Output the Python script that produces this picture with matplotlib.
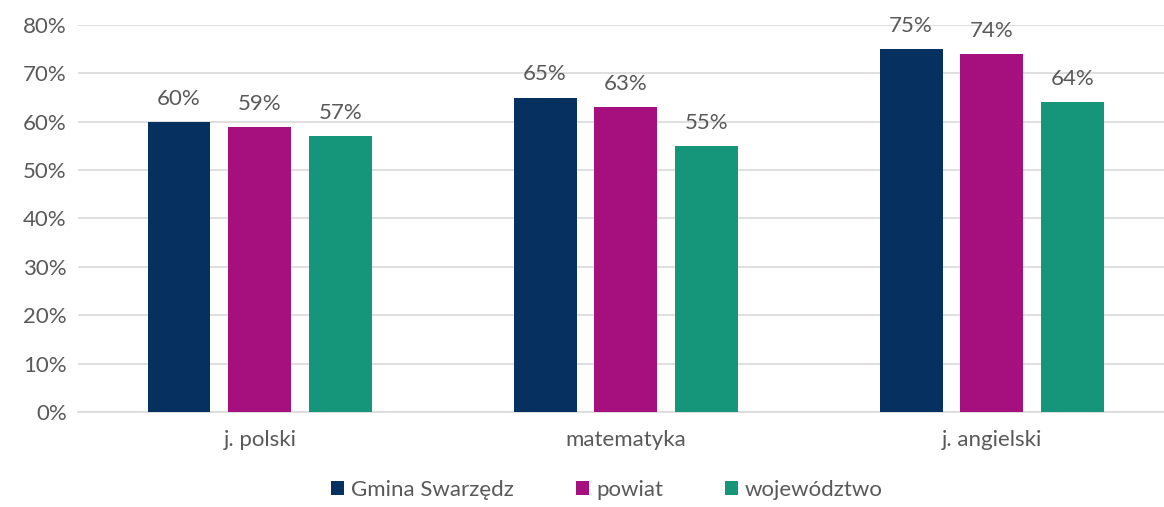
import matplotlib.pyplot as plt
import numpy as np

categories = ["j. polski", "matematyka", "j. angielski"]
series = ["Gmina Swarzędz", "powiat", "województwo"]
gmina = [60, 65, 75]
powiat = [59, 63, 74]
wojewodztwo = [57, 55, 64]
colors = ["#05305F", "#A50F7E", "#15967A"]

plt.rcParams['font.family'] = ['Lato', 'DejaVu Sans']
text_col = "#595959"

fig = plt.figure(figsize=(11.64, 5.07), dpi=100)
ax = fig.add_axes([0.067, 0.1874, 0.933, 0.7633])

x = np.arange(len(categories))
width = 0.172
pitch = 0.221
for i, (vals, name) in enumerate(zip([gmina, powiat, wojewodztwo], series)):
    bars = ax.bar(x + (i - 1) * pitch, vals, width, color=colors[i], label=name, zorder=3)
    for b, v in zip(bars, vals):
        ax.text(b.get_x() + b.get_width() / 2, v + 2.7, f"{v}%", ha="center", va="bottom",
                fontsize=16, color=text_col)

ax.set_ylim(0, 80)
ax.set_xlim(-0.497, 2.47)
ax.set_yticks(range(0, 81, 10))
ax.set_yticklabels([f"{t}%" for t in range(0, 81, 10)])
ax.set_xticks(x)
ax.set_xticklabels(categories)
ax.tick_params(axis="both", length=0, labelsize=16, colors=text_col)
ax.tick_params(axis="x", pad=13)
ax.tick_params(axis="y", pad=8)
ax.grid(axis="y", color="#D9D9D9", linewidth=1.2, zorder=0)
for s in ["top", "right", "left"]:
    ax.spines[s].set_visible(False)
ax.spines["bottom"].set_color("#D9D9D9")
ax.spines["bottom"].set_linewidth(1.2)

leg = ax.legend(loc="lower center", bbox_to_anchor=(0.5 - 0.013, -0.262), ncol=3, frameon=False,
                fontsize=16, handlelength=0.6, handleheight=0.6, handletextpad=0.3,
                columnspacing=2.8, labelcolor=text_col, borderpad=0.1)

fig.savefig("out.png", dpi=100)
